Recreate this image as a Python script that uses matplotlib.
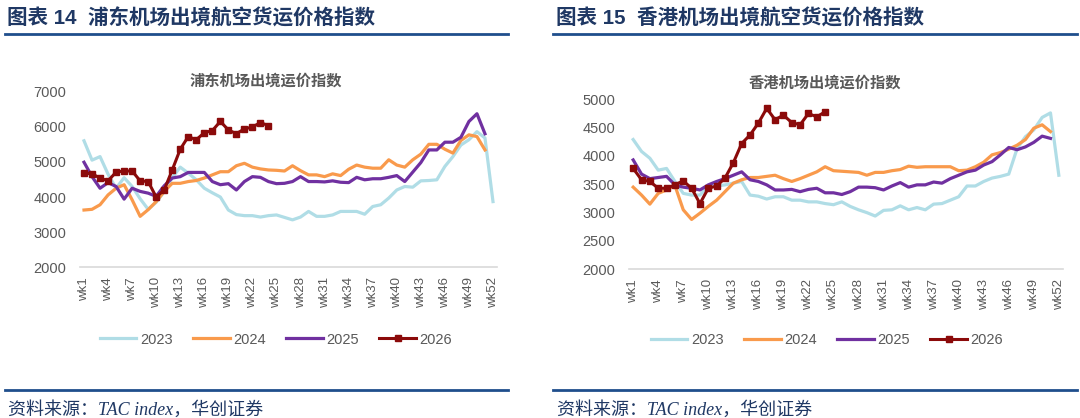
import matplotlib
matplotlib.use("Agg")
import matplotlib.pyplot as plt
from matplotlib.lines import Line2D

plt.rcParams["font.family"] = ["Liberation Sans", "Noto Sans CJK SC", "DejaVu Sans"]

# ============================================================
# DATA
# ============================================================

weeks = [f"wk{i}" for i in range(1, 53)]

pvg_2023 = [5600, 5050, 5150, 4650, 4250, 4550, 4300, 3950, 3650, 3850,
            4150, 4550, 4850, 4680, 4490, 4250, 4120, 4000, 3630, 3500,
            3470, 3470, 3430, 3470, 3490, 3420, 3350, 3430, 3590, 3450,
            3450, 3490, 3590, 3590, 3590, 3510, 3730, 3780, 3970, 4200,
            4300, 4280, 4460, 4470, 4490, 4870, 5150, 5480, 5630, 5860,
            5680, 3870]
pvg_2024 = [3630, 3650, 3780, 4060, 4250, 4350, 3920, 3450, 3640, 3870,
            4160, 4390, 4390, 4440, 4470, 4540, 4630, 4720, 4720, 4890,
            4960, 4850, 4800, 4770, 4760, 4740, 4890, 4750, 4630, 4630,
            4580, 4660, 4610, 4790, 4910, 4850, 4820, 4820, 5060, 4910,
            4850, 5060, 5220, 5500, 5500, 5360, 5250, 5610, 5770, 5720,
            5340]
pvg_2025 = [4990, 4580, 4250, 4410, 4300, 3940, 4250, 4160, 4110, 4020,
            4320, 4540, 4580, 4700, 4700, 4700, 4440, 4350, 4380, 4200,
            4440, 4580, 4560, 4440, 4380, 4390, 4440, 4580, 4440, 4440,
            4430, 4460, 4420, 4410, 4560, 4490, 4520, 4520, 4560, 4610,
            4440, 4710, 4980, 5340, 5340, 5560, 5560, 5700, 6150, 6370,
            5800]
pvg_2026 = [4680, 4660, 4540, 4460, 4710, 4740, 4740, 4460, 4440, 4000,
            4200, 4770, 5360, 5720, 5630, 5830, 5890, 6150, 5910, 5800,
            5940, 5990, 6120, 6030]

hkg_2023 = [4290, 4080, 3960, 3750, 3780, 3550, 3340, 3310, 3310, 3470,
            3470, 3490, 3520, 3550, 3310, 3290, 3240, 3280, 3280, 3220,
            3220, 3190, 3190, 3160, 3140, 3190, 3110, 3050, 3000, 2940,
            3040, 3050, 3120, 3050, 3090, 3050, 3150, 3160, 3220, 3280,
            3470, 3470, 3550, 3610, 3640, 3680, 4130, 4340, 4460, 4680,
            4760, 3660]
hkg_2024 = [3450, 3310, 3150, 3340, 3400, 3480, 3050, 2880, 2990, 3110,
            3220, 3370, 3520, 3580, 3620, 3620, 3640, 3660, 3600, 3550,
            3600, 3660, 3720, 3810, 3740, 3730, 3720, 3710, 3660, 3710,
            3710, 3740, 3760, 3820, 3800, 3810, 3810, 3810, 3810, 3740,
            3750, 3810, 3890, 4020, 4060, 4120, 4190, 4290, 4490, 4550,
            4430]
hkg_2025 = [3930, 3680, 3600, 3620, 3640, 3490, 3450, 3430, 3400, 3490,
            3550, 3600, 3660, 3720, 3580, 3550, 3490, 3400, 3400, 3410,
            3370, 3410, 3430, 3350, 3350, 3320, 3370, 3450, 3450, 3440,
            3400, 3470, 3530, 3450, 3490, 3490, 3540, 3520, 3600, 3660,
            3720, 3750, 3840, 3900, 4020, 4150, 4110, 4160, 4240, 4350,
            4310]
hkg_2026 = [3780, 3580, 3550, 3430, 3430, 3490, 3560, 3430, 3160, 3430,
            3470, 3610, 3880, 4220, 4370, 4580, 4840, 4640, 4720, 4590,
            4550, 4750, 4690, 4780]

years = ["2023", "2024", "2025", "2026"]
colors = ["#B0DDE6", "#F99A4C", "#7030A0", "#8B0A0A"]

# ============================================================
# LAYOUT HELPERS
# ============================================================

W, H = 1080, 418
TXT = "#595959"
NAVY = "#1F3864"
RULE = "#1F4E8C"


def px(x, y):
    return x / W, 1 - y / H


def box(x0, x1, y_top, y_bot):
    return [x0 / W, 1 - y_bot / H, (x1 - x0) / W, (y_bot - y_top) / H]


def draw_panel(ax, series, ylim, yticks):
    for vals, col, yr in zip(series, colors, years):
        xs = range(len(vals))
        if yr == "2026":
            ax.plot(xs, vals, color=col, lw=2.2, marker="s", ms=3.8,
                    solid_joinstyle="miter", zorder=4)
        else:
            ax.plot(xs, vals, color=col, lw=2.3, zorder=3)
    ax.set_xlim(-0.5, 51.5)
    ax.set_ylim(*ylim)
    ax.set_yticks(yticks)
    ax.set_xticks(range(0, 52, 3))
    ax.set_xticklabels(weeks[::3], rotation=90, va="top")
    for s in ["top", "right", "left"]:
        ax.spines[s].set_visible(False)
    ax.spines["bottom"].set_color("#D9D9D9")
    ax.spines["bottom"].set_linewidth(1.2)
    ax.tick_params(length=0, colors=TXT)
    ax.tick_params(axis="y", labelsize=10.5, pad=10)
    ax.tick_params(axis="x", labelsize=9.5, pad=7)
    ax.patch.set_visible(False)


fig = plt.figure(figsize=(W / 100, H / 100), dpi=100)

# ============================================================
# LEFT: PVG
# ============================================================

ax1 = fig.add_axes(box(80, 497, 91.6, 267.3))
draw_panel(ax1, [pvg_2023, pvg_2024, pvg_2025, pvg_2026],
           (2000, 7000), range(2000, 7001, 1000))

# ============================================================
# RIGHT: HKG
# ============================================================

ax2 = fig.add_axes(box(629, 1063, 99.3, 269.3))
draw_panel(ax2, [hkg_2023, hkg_2024, hkg_2025, hkg_2026],
           (2000, 5000), range(2000, 5001, 500))

# headers, rules, titles, source
fig.text(*px(7, 18), "图表 14  浦东机场出境航空货运价格指数", fontsize=14.8,
         fontweight="bold", color=NAVY, ha="left", va="center")
fig.text(*px(556, 18), "图表 15  香港机场出境航空货运价格指数", fontsize=14.8,
         fontweight="bold", color=NAVY, ha="left", va="center")

for x0, x1 in [(5, 508), (553, 1077)]:
    fig.add_artist(Line2D([x0 / W, x1 / W], [1 - 34 / H] * 2, color=RULE, lw=2))
    fig.add_artist(Line2D([x0 / W, x1 / W], [1 - 389.5 / H] * 2, color=RULE, lw=2))

fig.text(*px(266, 81), "浦东机场出境运价指数", fontsize=11, fontweight="bold",
         color=TXT, ha="center", va="center")
fig.text(*px(825, 83), "香港机场出境运价指数", fontsize=11, fontweight="bold",
         color=TXT, ha="center", va="center")

for x in [8, 557]:
    fig.text(*px(x, 410), "资料来源：TAC index，华创证券", fontsize=13,
             style="italic", color=NAVY, ha="left", va="center",
             family=["Liberation Serif", "Noto Sans CJK SC"])

# legends
for ax, cx, cy in [(ax1, 276, 339.5), (ax2, 827, 340)]:
    fig.legend(ax.get_lines(), years, loc="center", bbox_to_anchor=px(cx, cy),
               ncol=4, frameon=False, fontsize=10.5, handlelength=2.5,
               handletextpad=0.25, columnspacing=1.4, labelcolor=TXT,
               borderpad=0)

fig.savefig("out.png", dpi=100)
